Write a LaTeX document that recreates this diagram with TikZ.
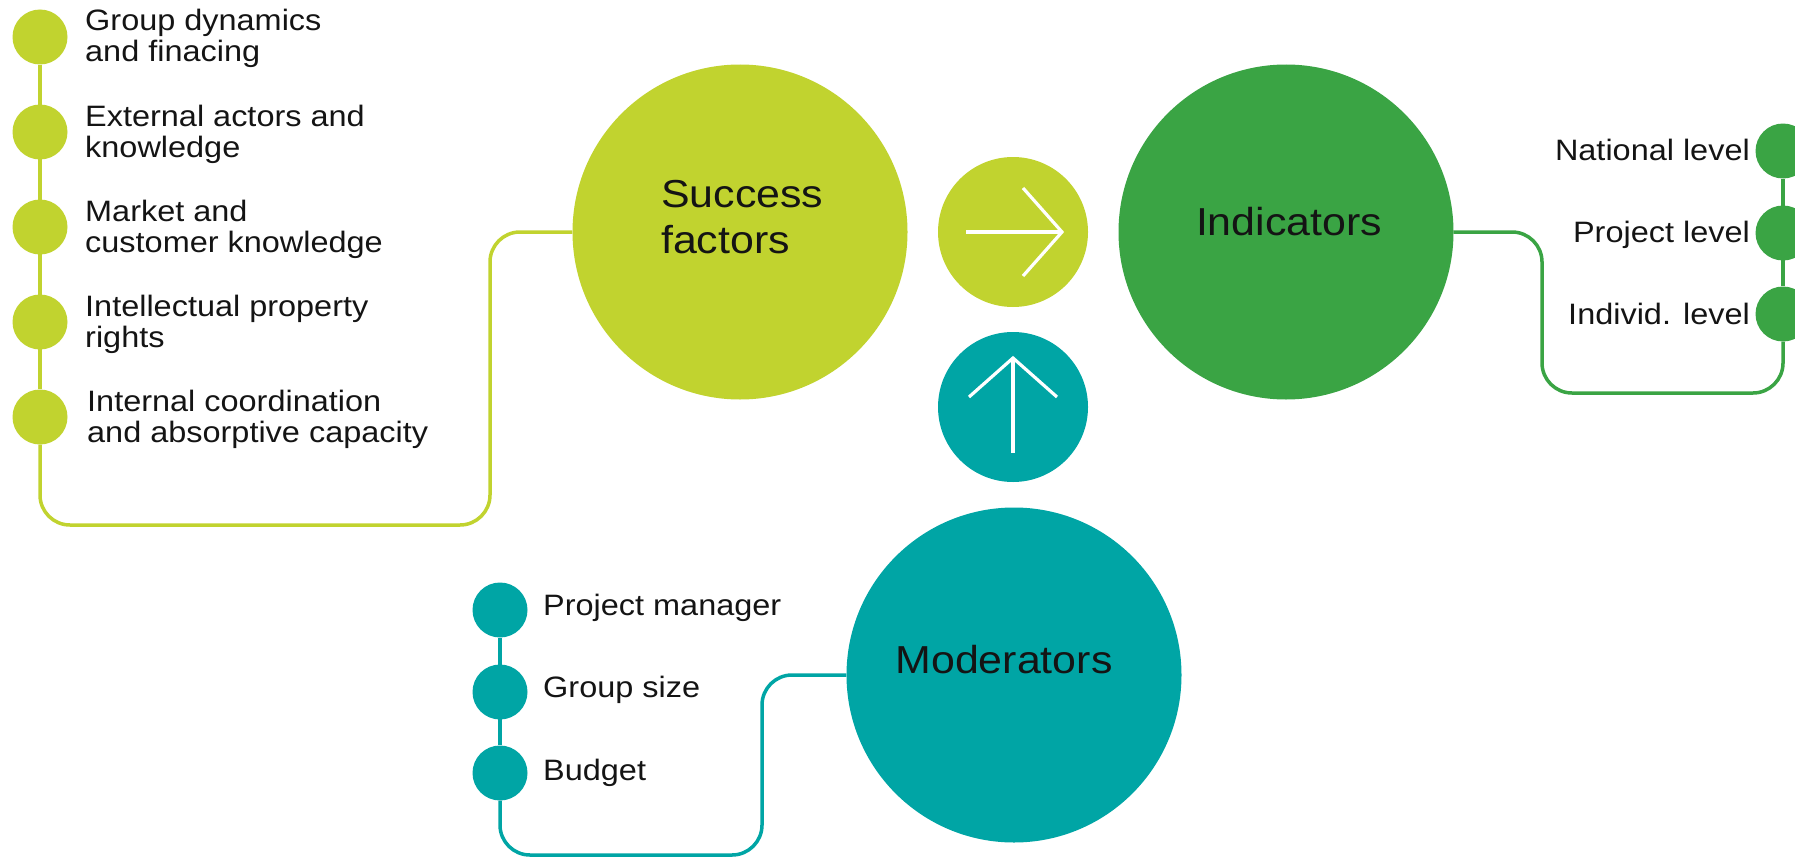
\documentclass[tikz,border=0pt]{standalone}
\usepackage{fontspec}
\setmainfont{Liberation Sans}[FakeStretch=1.1]
\usetikzlibrary{calc}
\definecolor{limeg}{RGB}{193,211,47}
\definecolor{leafg}{RGB}{58,164,68}
\definecolor{tealg}{RGB}{0,165,165}
\definecolor{inkc}{RGB}{20,20,20}
\newcommand{\twoline}[2]{\begin{tabular}[t]{@{}l@{}}#1\\#2\end{tabular}}
\begin{document}
\begin{tikzpicture}[x=1pt,y=-1pt,
  bigdot/.style={circle, inner sep=0pt, minimum size=335pt},
  armdot/.style={circle, inner sep=0pt, minimum size=150pt},
  itemdot/.style={circle, inner sep=0pt, minimum size=55pt},
  routeline/.style={line width=3.5pt, rounded corners=30pt},
  itemtext/.style={inner sep=0pt, text=inkc, font=\fontsize{29.5}{31}\selectfont},
  headtext/.style={inner sep=0pt, text=inkc, font=\fontsize{39}{46}\selectfont},
  whitestroke/.style={draw=white, line width=3.2pt}]
\useasboundingbox (0,0) rectangle (1795,859);

% main circles
\node[bigdot, fill=limeg] (sf) at (740,232) {};
\node[bigdot, fill=leafg] (ind) at (1286,232) {};
\node[bigdot, fill=tealg] (mod) at (1014,675) {};
\node[armdot, fill=limeg] (ra) at (1013,232) {};
\node[armdot, fill=tealg] (ua) at (1013,407) {};

% arrows inside the small circles
\draw[whitestroke] ($(ra.center)+(-47,0)$) -- ($(ra.center)+(49,0)$);
\draw[whitestroke, line join=miter] ($(ra.center)+(10,-44)$) -- ($(ra.center)+(49,0)$) -- ($(ra.center)+(10,44)$);
\draw[whitestroke] ($(ua.center)+(0,46)$) -- ($(ua.center)+(0,-49)$);
\draw[whitestroke, line join=miter] ($(ua.center)+(-44,-10)$) -- ($(ua.center)+(0,-49)$) -- ($(ua.center)+(44,-10)$);

% headings
\node[headtext, anchor=base west] at (661,207) {\twoline{Success}{factors}};
\node[headtext, anchor=base] at (1289,235) {Indicators};
\node[headtext, anchor=base] at (1004,673) {Moderators};

% success factors list
\foreach \i/\y in {1/37,2/132,3/227,4/322,5/417}
  \node[itemdot, fill=limeg] (l\i) at (40,\y) {};
\coordinate (lturn) at (490,525);
\draw[limeg, line width=3.5pt] (l1) -- (l5);
\draw[limeg, routeline] (l5) |- (lturn) |- (sf.west);
\node[itemtext, anchor=base west] at (85,31) {\twoline{Group dynamics}{and finacing}};
\node[itemtext, anchor=base west] at (85,126) {\twoline{External actors and}{knowledge}};
\node[itemtext, anchor=base west] at (85,221) {\twoline{Market and}{customer knowledge}};
\node[itemtext, anchor=base west] at (85,316) {\twoline{Intellectual property}{rights}};
\node[itemtext, anchor=base west] at (87,411) {\twoline{Internal coordination}{and absorptive capacity}};

% indicator levels
\foreach \i/\y in {1/151,2/233,3/314}
  \node[itemdot, fill=leafg] (r\i) at (1783,\y) {};
\coordinate (gturn) at (1542,393);
\draw[leafg, line width=3.5pt] (r1) -- (r3);
\draw[leafg, routeline] (ind.east) -| (gturn) -| (r3);
\node[itemtext, anchor=base east] at (1750,160) {National level};
\node[itemtext, anchor=base east] at (1750,242) {Project level};
\node[itemtext, anchor=base east] at (1750,324) {Individ. level};

% moderators list
\foreach \i/\y in {1/610,2/692,3/773}
  \node[itemdot, fill=tealg] (m\i) at (500,\y) {};
\coordinate (tturn) at (762,855);
\draw[tealg, line width=3.5pt] (m1) -- (m3);
\draw[tealg, routeline] (mod.west) -| (tturn) -| (m3);
\node[itemtext, anchor=base west] at (543,615) {Project manager};
\node[itemtext, anchor=base west] at (543,697) {Group size};
\node[itemtext, anchor=base west] at (543,780) {Budget};
\end{tikzpicture}
\end{document}
